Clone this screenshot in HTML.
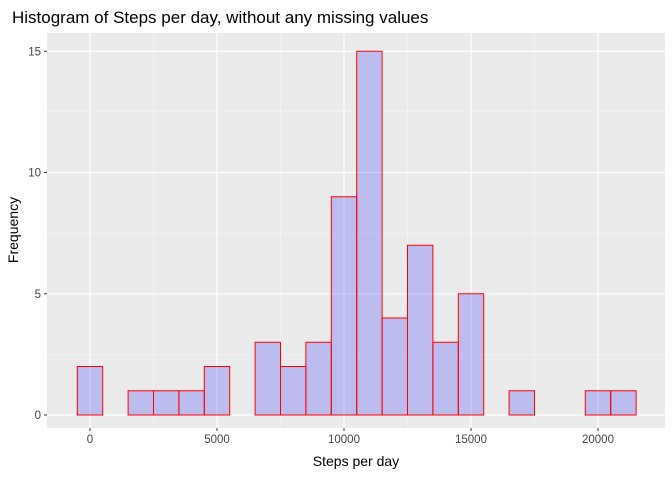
<!DOCTYPE html>
<html><head><meta charset="utf-8"><style>
body{margin:0;background:#fff;}
svg{display:block;font-family:"Liberation Sans",sans-serif;}
</style></head><body>
<svg id="chart" width="672" height="480">
<text x="12" y="23" font-size="17" fill="#000">Histogram of Steps per day, without any missing values</text>
<rect x="47" y="33" width="618" height="395" fill="#ebebeb"/>
<g id="grid"></g>
<g id="bars"></g>
<g id="axes"></g>
<text x="356" y="466" font-size="14" text-anchor="middle" fill="#000">Steps per day</text>
<text transform="translate(18,230) rotate(-90)" font-size="14" text-anchor="middle" fill="#000">Frequency</text>
</svg>
<script>
const binCenters=[0,1000,2000,3000,4000,5000,6000,7000,8000,9000,10000,11000,12000,13000,14000,15000,16000,17000,18000,19000,20000,21000];
const counts=[2,0,1,1,1,2,0,3,2,3,9,15,4,7,3,5,0,1,0,0,1,1];
const xTicks=[0,5000,10000,15000,20000];
const yTicks=[0,5,10,15];
const binWidth=1000;
const NS="http://www.w3.org/2000/svg";
const X=v=>90+v*0.0254;
const Y=v=>415-v*24.25;
function mk(t,a,p){const e=document.createElementNS(NS,t);for(const k in a)e.setAttribute(k,a[k]);p.appendChild(e);return e;}
const grid=document.getElementById('grid'),bars=document.getElementById('bars'),axes=document.getElementById('axes');
for(let i=0;i<xTicks.length-1;i++){const m=(xTicks[i]+xTicks[i+1])/2;
 const l=mk('line',{x1:X(m),x2:X(m),y1:33,y2:428,stroke:'#f7f7f7','stroke-width':0.6},grid);
 
 }
for(let i=0;i<yTicks.length-1;i++){const m=(yTicks[i]+yTicks[i+1])/2;
 const l=mk('line',{x1:47,x2:665,y1:Y(m),y2:Y(m),stroke:'#f7f7f7','stroke-width':0.6},grid);
 
 }
xTicks.forEach(v=>{
 const l=mk('line',{x1:X(v),x2:X(v),y1:33,y2:428,stroke:'#fff','stroke-width':1.2},grid);
 
 
 const t=mk('line',{x1:X(v),x2:X(v),y1:428,y2:431,stroke:'#333'},axes);
 
 
 const tx=mk('text',{x:X(v),y:443,'font-size':11.5,'text-anchor':'middle',fill:'#444'},axes);tx.textContent=v;
 
 
});
yTicks.forEach(v=>{
 const l=mk('line',{x1:47,x2:665,y1:Y(v),y2:Y(v),stroke:'#fff','stroke-width':1.2},grid);
 
 
 const t=mk('line',{x1:44,x2:47,y1:Y(v),y2:Y(v),stroke:'#333'},axes);
 
 
 const tx=mk('text',{x:41,y:Y(v)+4,'font-size':11.5,'text-anchor':'end',fill:'#444'},axes);tx.textContent=v;
 
 
});
binCenters.forEach((c,i)=>{
 const x0=X(c-binWidth/2),x1=X(c+binWidth/2),h=counts[i];
 const r=mk('rect',{x:x0,y:Y(h),width:x1-x0,height:Y(0)-Y(h),fill:'rgba(0,0,255,0.2)',stroke:'#ff0000','stroke-width':1},bars);
 
 
});
</script>
</body></html>
